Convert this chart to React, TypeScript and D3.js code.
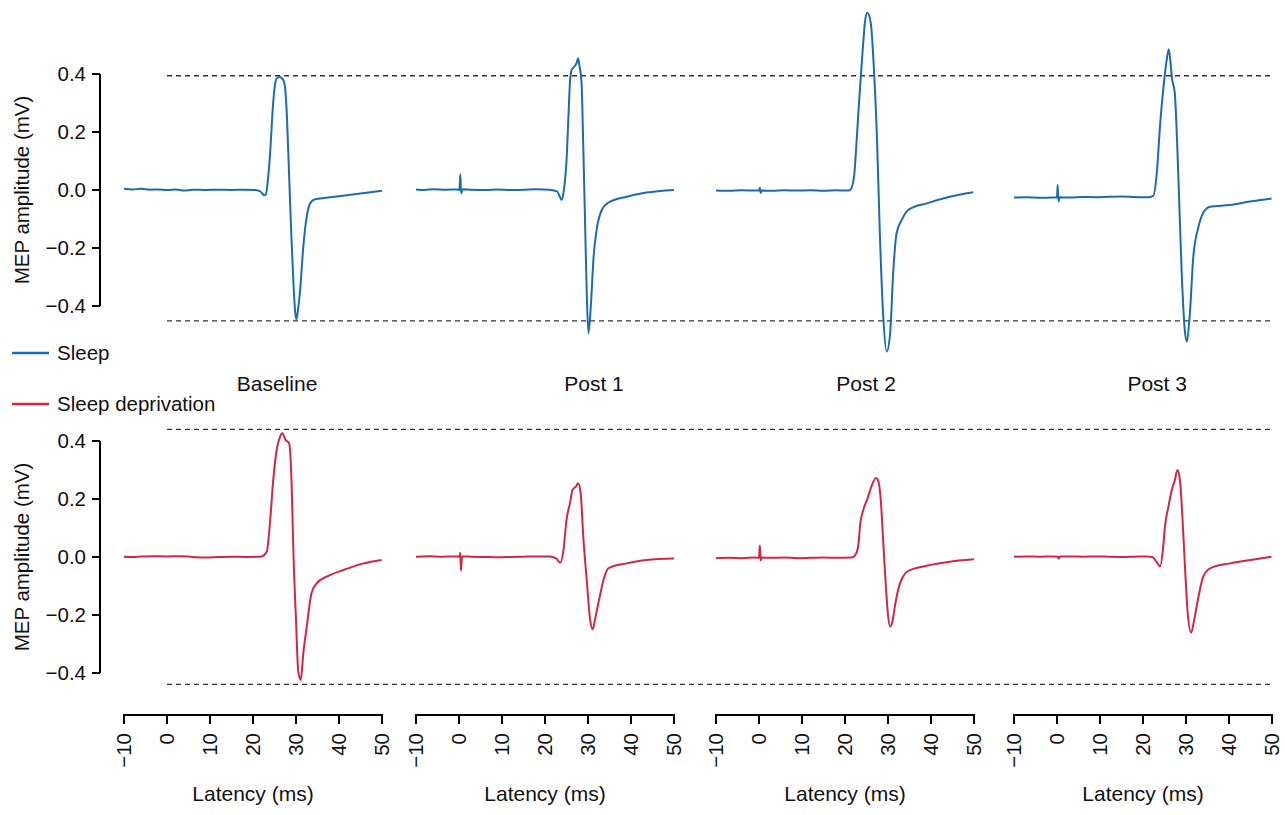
import React from "react";
import * as d3 from "d3";

// ---------- data ----------
const conditions = ["Baseline", "Post 1", "Post 2", "Post 3"];
const xTicks = [-10, 0, 10, 20, 30, 40, 50];
const yTicks = [0.4, 0.2, 0.0, -0.2, -0.4];
const sleepRefLines = [0.394, -0.451];
const sdRefLines = [0.44, -0.439];
const seriesNames = ["Sleep", "Sleep deprivation"];

// [latency ms, amplitude mV]
const sleepBaseline: [number, number][] = [
  [-10, 0.004], [-8, 0.002], [-6, 0.004], [-4, 0.001], [-2, 0.002], [0, 0.0], [2, 0.002], [4, -0.002],
  [6, 0.001], [9, 0.0], [12, 0.001], [15, 0.0], [18, 0.001], [20.5, 0.0], [21.8, -0.006], [22.6, -0.018],
  [23.0, -0.015], [23.5, 0.04], [24.0, 0.13], [24.5, 0.26], [25.0, 0.35], [25.5, 0.385], [26.2, 0.39],
  [26.9, 0.383], [27.4, 0.36], [27.9, 0.25], [28.4, 0.05], [28.9, -0.15], [29.4, -0.32], [29.8, -0.42],
  [30.1, -0.446], [30.5, -0.41], [30.9, -0.356], [31.7, -0.195], [32.5, -0.092], [33.3, -0.046],
  [34.4, -0.032], [37, -0.027], [41, -0.02], [45, -0.012], [50, -0.003],
];
const sleepPost1: [number, number][] = [
  [-10, 0.002], [-8, 0.0], [-6, 0.003], [-3, 0.001], [-0.5, 0.002], [0.1, 0.0], [0.3, 0.054], [0.5, -0.011],
  [0.9, 0.003], [3, 0.001], [6, 0.0], [9, 0.002], [12, 0.0], [15, 0.001], [18, 0.003], [21, 0.001],
  [22.8, -0.005], [23.5, -0.025], [23.9, -0.034], [24.4, 0.0], [25.0, 0.1], [25.5, 0.27], [25.8, 0.37],
  [26.2, 0.414], [26.8, 0.425], [27.4, 0.44], [27.7, 0.454], [28.0, 0.43], [28.5, 0.37], [28.9, 0.15],
  [29.3, -0.1], [29.7, -0.35], [30.1, -0.494], [30.7, -0.39], [31.3, -0.23], [32.0, -0.138],
  [33.2, -0.069], [34.7, -0.044], [39.0, -0.023], [43.6, -0.009], [50, 0.0],
];
const sleepPost2: [number, number][] = [
  [-10, -0.002], [-7, -0.003], [-4, -0.001], [-1, -0.002], [0, -0.002], [0.2, 0.008], [0.4, -0.01],
  [0.7, -0.002], [3, -0.003], [6, -0.001], [9, -0.002], [12, -0.001], [15, -0.003], [18, -0.001],
  [20.5, -0.002], [21.2, 0.0], [22.1, 0.046], [22.7, 0.17], [23.3, 0.31], [24.1, 0.48], [24.7, 0.586],
  [25.2, 0.611], [26.0, 0.575], [26.7, 0.425], [27.4, 0.195], [28.1, -0.149], [28.9, -0.437],
  [29.7, -0.557], [30.5, -0.494], [31.2, -0.287], [32.0, -0.149], [33.2, -0.103], [34.7, -0.069],
  [39.0, -0.046], [44.4, -0.023], [48, -0.012], [49.8, -0.008],
];
const sleepPost3: [number, number][] = [
  [-10, -0.026], [-7, -0.025], [-4, -0.027], [-1, -0.026], [0.0, -0.026], [0.15, 0.017], [0.35, -0.04],
  [0.6, -0.025], [3, -0.026], [6, -0.024], [9, -0.025], [12, -0.023], [15, -0.022], [18, -0.024],
  [21, -0.025], [22.4, -0.02], [23.2, 0.057], [24.0, 0.23], [24.7, 0.345], [25.5, 0.448], [26.0, 0.485],
  [26.4, 0.44], [26.7, 0.39], [27.4, 0.333], [28.2, 0.057], [29.0, -0.287], [29.7, -0.48], [30.2, -0.523],
  [30.9, -0.425], [31.7, -0.23], [32.9, -0.127], [34.4, -0.069], [35.6, -0.058], [40.2, -0.052],
  [44.9, -0.04], [49.9, -0.029],
];
const sdBaseline: [number, number][] = [
  [-10, 0.001], [-8, 0.0], [-6, 0.002], [-3, 0.003], [0, 0.002], [3, 0.003], [6, 0.0], [9, -0.002],
  [12, 0.0], [15, 0.001], [18, 0.0], [21, 0.001], [22.0, 0.002], [23.2, 0.018], [24.0, 0.128],
  [24.7, 0.265], [25.5, 0.369], [26.3, 0.415], [26.8, 0.427], [27.6, 0.403], [28.4, 0.392], [29.0, 0.243],
  [29.4, 0.014], [30.0, -0.217], [30.5, -0.39], [31.1, -0.424], [31.7, -0.332], [32.5, -0.24],
  [33.6, -0.125], [34.8, -0.091], [37.1, -0.068], [41.0, -0.045], [45.7, -0.022], [49.9, -0.01],
];
const sdPost1: [number, number][] = [
  [-10, 0.001], [-7, 0.003], [-4, 0.001], [-1, 0.002], [0.1, 0.001], [0.3, 0.015], [0.45, -0.047],
  [0.7, 0.002], [3, 0.001], [6, 0.0], [9, -0.001], [12, 0.0], [15, 0.001], [18, 0.002], [21, 0.002],
  [22.6, -0.005], [23.5, -0.02], [24.3, 0.024], [25.0, 0.128], [25.8, 0.185], [26.4, 0.231],
  [27.2, 0.243], [27.7, 0.254], [28.3, 0.22], [28.9, 0.07], [29.7, -0.079], [30.5, -0.217],
  [31.1, -0.249], [31.6, -0.217], [32.4, -0.16], [33.6, -0.079], [34.7, -0.039], [39.0, -0.022],
  [43.6, -0.01], [50, -0.005],
];
const sdPost2: [number, number][] = [
  [-10, -0.004], [-7, -0.003], [-4, -0.004], [-1, -0.002], [0.0, -0.003], [0.2, 0.04], [0.4, -0.012],
  [0.7, -0.002], [3, -0.003], [6, -0.002], [9, -0.004], [12, -0.003], [15, -0.002], [18, -0.003],
  [21.5, -0.002], [22.3, 0.005], [23.0, 0.03], [23.6, 0.12], [24.3, 0.165], [25.2, 0.2], [26.2, 0.245],
  [27.2, 0.272], [27.6, 0.268], [28.3, 0.2], [28.9, 0.05], [29.5, -0.1], [30.0, -0.2], [30.5, -0.24],
  [31.0, -0.225], [31.6, -0.17], [32.4, -0.11], [33.4, -0.07], [34.5, -0.05], [39, -0.03],
  [44, -0.017], [50, -0.008],
];
const sdPost3: [number, number][] = [
  [-10, 0.001], [-7, 0.002], [-4, 0.001], [-1, 0.002], [0.2, 0.001], [0.4, -0.006], [0.7, 0.002],
  [3, 0.002], [6, 0.001], [9, 0.002], [12, 0.001], [15, 0.0], [18, 0.001], [21, 0.002], [22.2, 0.0],
  [23.2, -0.018], [24.0, -0.033], [24.7, 0.036], [25.1, 0.104], [25.9, 0.173], [26.7, 0.231],
  [27.4, 0.265], [28.0, 0.3], [28.6, 0.265], [29.2, 0.128], [29.8, -0.045], [30.4, -0.194],
  [31.2, -0.261], [31.9, -0.217], [32.9, -0.137], [34.0, -0.068], [35.6, -0.039], [40.2, -0.022],
  [45, -0.01], [49.9, 0.001],
];

const sleepTraces = [sleepBaseline, sleepPost1, sleepPost2, sleepPost3];
const sdTraces = [sdBaseline, sdPost1, sdPost2, sdPost3];

// ---------- layout ----------
const W = 1285;
const H = 815;
const panelLeft = [124, 416, 716, 1014];
const panelWidth = 258;
const titleAt = [25.6, 31.4, 24.9, 23.3]; // latency at which each condition label is centred
const rowZero = [190, 557];
const pxPerMv = 290;
const axisX = 100;
const xAxisY = 715;
const FONT = "'Liberation Sans', Arial, Helvetica, sans-serif";
const BLUE = "#1b6bae";
const RED = "#cf2746";

export default function App() {
  const xScales = panelLeft.map((l) => d3.scaleLinear().domain([-10, 50]).range([l, l + panelWidth]));
  const yScales = rowZero.map((z) => d3.scaleLinear().domain([-0.4, 0.4]).range([z + 0.4 * pxPerMv, z - 0.4 * pxPerMv]));
  const fmt = d3.format(".1f");

  const rows = [
    { traces: sleepTraces, color: BLUE, refs: sleepRefLines },
    { traces: sdTraces, color: RED, refs: sdRefLines },
  ];

  return (
    <svg width={W} height={H} style={{ position: "absolute", left: 0, top: 0, background: "#fff" }} fontFamily={FONT}>
      {rows.map((row, r) => {
        const y = yScales[r];
        return (
          <g key={r}>
            {row.refs.map((v, i) => (
              <line key={i} x1={xScales[0](0)} x2={xScales[3](50)} y1={y(v)} y2={y(v)}
                stroke="#333" strokeWidth={1.3} strokeDasharray="5,4" />
            ))}
            <line x1={axisX} x2={axisX} y1={y(0.4)} y2={y(-0.4)} stroke="#000" strokeWidth={2} />
            {yTicks.map((t) => (
              <g key={t}>
                <line x1={axisX - 8} x2={axisX} y1={y(t)} y2={y(t)} stroke="#000" strokeWidth={2} />
                <text x={axisX - 14} y={y(t)} dy="0.35em" textAnchor="end" fontSize={20.5} fill="#111">{fmt(t)}</text>
              </g>
            ))}
            <text transform={`translate(29,${y(0)}) rotate(-90)`} textAnchor="middle" fontSize={20.5} fill="#111">
              MEP amplitude (mV)
            </text>
            {row.traces.map((tr, p) => {
              const line = d3.line<[number, number]>()
                .x((d) => xScales[p](d[0]))
                .y((d) => y(d[1]))
                .curve(d3.curveMonotoneX);
              return <path key={p} d={line(tr) || ""} fill="none" stroke={row.color} strokeWidth={2} strokeLinejoin="round" />;
            })}
          </g>
        );
      })}

      {seriesNames.map((n, i) => (
        <g key={n} transform={`translate(0,${[353, 404][i]})`}>
          <line x1={12} x2={49} y1={0} y2={0} stroke={[BLUE, RED][i]} strokeWidth={2.5} />
          <text x={57} y={0} dy="0.35em" fontSize={20.5} fill="#111">{n}</text>
        </g>
      ))}

      {conditions.map((c, p) => (
        <text key={c} x={xScales[p](titleAt[p])} y={391} textAnchor="middle" fontSize={21} fill="#111">{c}</text>
      ))}

      {xScales.map((xs, p) => (
        <g key={p}>
          <line x1={xs(-10)} x2={xs(50)} y1={xAxisY} y2={xAxisY} stroke="#000" strokeWidth={2} />
          {xTicks.map((t) => (
            <g key={t}>
              <line x1={xs(t)} x2={xs(t)} y1={xAxisY - 1} y2={xAxisY + 9} stroke="#000" strokeWidth={2} />
              <text transform={`translate(${xs(t)},${xAxisY + 18}) rotate(-90)`} textAnchor="end" dy="0.35em"
                fontSize={20.5} fill="#111">{d3.format("")(t).replace("-", "\u2212")}</text>
            </g>
          ))}
          <text x={xs(20)} y={801} textAnchor="middle" fontSize={21} fill="#111">Latency (ms)</text>
        </g>
      ))}
    </svg>
  );
}
